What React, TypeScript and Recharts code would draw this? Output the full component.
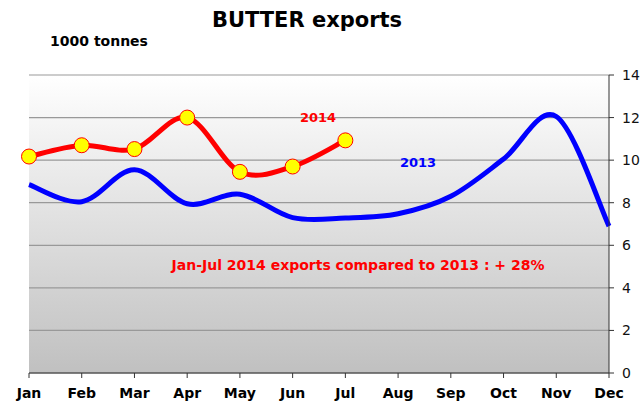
import React from "react";
import { LineChart, Line, XAxis, YAxis, CartesianGrid } from "recharts";

const months = ["Jan", "Feb", "Mar", "Apr", "May", "Jun", "Jul", "Aug", "Sep", "Oct", "Nov", "Dec"];
const exports2013 = [8.85, 8.05, 9.55, 7.95, 8.4, 7.3, 7.28, 7.48, 8.3, 10.05, 12.05, 6.9];
const exports2014 = [10.17, 10.7, 10.52, 12.0, 9.45, 9.7, 10.93, null, null, null, null, null];
const yTicks = [0, 2, 4, 6, 8, 10, 12, 14];

const data = months.map((m, i) => ({ month: m, y2013: exports2013[i], y2014: exports2014[i] }));

// Excel-like smoothing (catmull-rom, control points at 1/6)
const smoothCurve = (context: any) => {
  let pts: number[][] = [];
  return {
    areaStart() {},
    areaEnd() {},
    lineStart() {
      pts = [];
    },
    lineEnd() {
      const n = pts.length;
      if (!n) return;
      context.moveTo(pts[0][0], pts[0][1]);
      for (let i = 0; i < n - 1; i++) {
        const p0 = pts[Math.max(i - 1, 0)];
        const p1 = pts[i];
        const p2 = pts[i + 1];
        const p3 = pts[Math.min(i + 2, n - 1)];
        context.bezierCurveTo(
          p1[0] + (p2[0] - p0[0]) / 6,
          p1[1] + (p2[1] - p0[1]) / 6,
          p2[0] - (p3[0] - p1[0]) / 6,
          p2[1] - (p3[1] - p1[1]) / 6,
          p2[0],
          p2[1]
        );
      }
    },
    point(x: number, y: number) {
      pts.push([+x, +y]);
    },
  };
};

const font = "'DejaVu Sans', Verdana, sans-serif";

const label = (text: string, x: number, y: number, size: number, color: string) => (
  <div
    style={{
      position: "absolute",
      left: x,
      top: y,
      transform: "translate(-50%, -50%)",
      fontFamily: font,
      fontWeight: "bold",
      fontSize: size,
      lineHeight: 1,
      color,
      whiteSpace: "nowrap",
    }}
  >
    {text}
  </div>
);

export default function App() {
  return (
    <div style={{ position: "absolute", left: 0, top: 0, width: 644, height: 404, background: "#fff" }}>
      <LineChart width={644} height={404} data={data} margin={{ top: 75, right: 0, bottom: 0, left: 29 }}>
        <defs>
          <linearGradient id="bg" x1="0" y1="0" x2="0" y2="1">
            <stop offset="0%" stopColor="#ffffff" />
            <stop offset="100%" stopColor="#c0c0c0" />
          </linearGradient>
        </defs>
        <CartesianGrid vertical={false} stroke="#999" strokeWidth={1.2} fill="url(#bg)" />
        <XAxis
          dataKey="month"
          height={31}
          tickSize={5}
          tickMargin={10}
          stroke="#333"
          tick={{ fill: "#000", fontFamily: font, fontWeight: "bold", fontSize: 14 }}
        />
        <YAxis
          orientation="right"
          width={35}
          domain={[0, 14]}
          ticks={yTicks}
          tickSize={5}
          tickMargin={8}
          stroke="#333"
          tick={{ fill: "#111", fontFamily: font, fontSize: 14 }}
        />
        <Line
          dataKey="y2013"
          type={smoothCurve as any}
          stroke="#0000ff"
          strokeWidth={5}
          dot={false}
          activeDot={false}
          isAnimationActive={false}
        />
        <Line
          dataKey="y2014"
          type={smoothCurve as any}
          stroke="#ff0000"
          strokeWidth={5}
          dot={{ r: 7.5, fill: "#ffff00", stroke: "#ff0000", strokeWidth: 1 }}
          activeDot={false}
          isAnimationActive={false}
        />
      </LineChart>
      {label("BUTTER exports", 307, 20, 21, "#000")}
      {label("1000 tonnes", 99, 41, 14, "#000")}
      {label("2014", 318, 117, 13, "#ff0000")}
      {label("2013", 418, 162, 13, "#0000ff")}
      {label("Jan-Jul  2014  exports compared to 2013 : + 28%", 358, 265, 14, "#ff0000")}
    </div>
  );
}
